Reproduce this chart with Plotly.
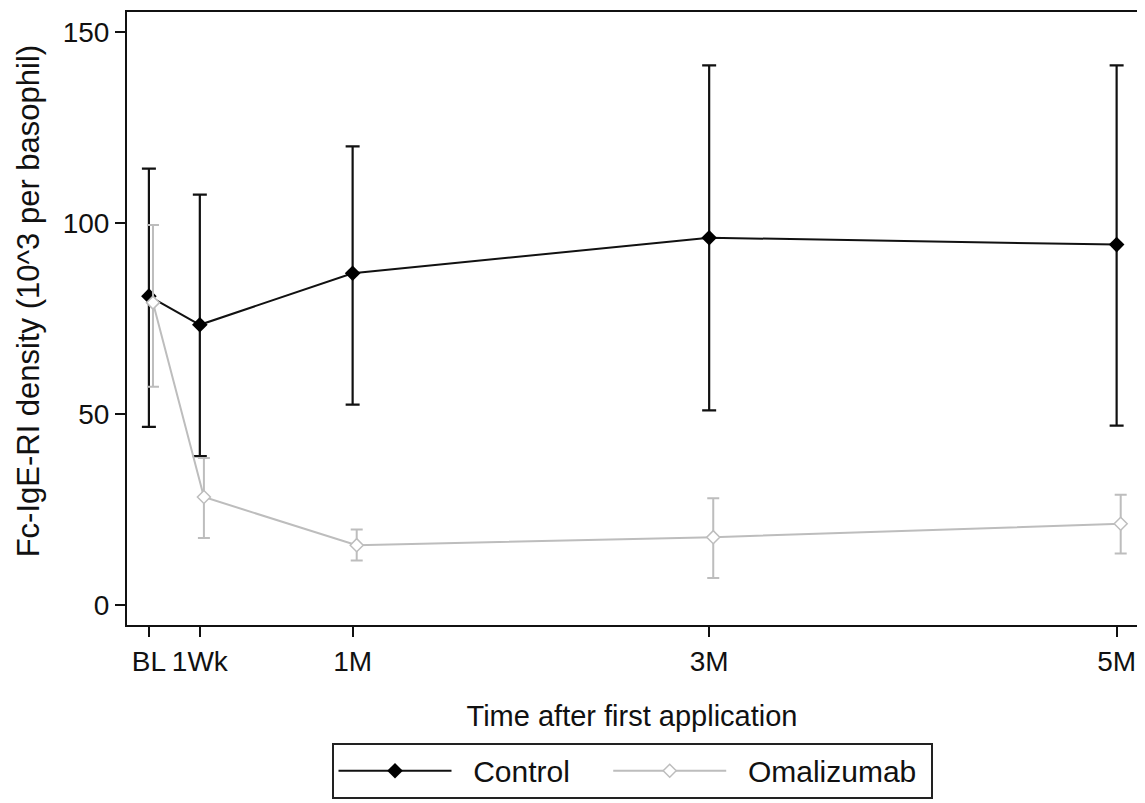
import plotly.graph_objects as go

# time in weeks after first application
time_weeks = [0, 1, 4, 11, 19]
tick_labels = ["BL", "1Wk", "1M", "3M", "5M"]

control_mean = [80.9, 73.4, 86.9, 96.2, 94.4]
control_upper = [114.3, 107.5, 120.1, 141.3, 141.3]
control_lower = [46.7, 39.0, 52.5, 51.0, 47.0]

omal_mean = [79.2, 28.3, 15.7, 17.8, 21.3]
omal_upper = [99.5, 38.5, 19.8, 28.0, 28.9]
omal_lower = [57.2, 17.6, 11.7, 7.1, 13.5]

omal_offset = 0.08  # small horizontal dodge
omal_x = [t + omal_offset for t in time_weeks]

NB = "\u00a0"
fig = go.Figure()
fig.add_trace(go.Scatter(
    x=time_weeks, y=control_mean, name=NB * 2 + "Control" + NB * 4, mode="lines+markers",
    line=dict(color="#111111", width=2),
    marker=dict(symbol="diamond", size=12, color="#000000"),
    error_y=dict(type="data", symmetric=False,
                 array=[u - m for u, m in zip(control_upper, control_mean)],
                 arrayminus=[m - l for m, l in zip(control_mean, control_lower)],
                 color="#111111", thickness=2.2, width=7),
))
fig.add_trace(go.Scatter(
    x=omal_x, y=omal_mean, name=NB * 2 + "Omalizumab" + NB, mode="lines+markers",
    line=dict(color="#bdbdbd", width=2),
    marker=dict(symbol="diamond", size=10, color="white",
                line=dict(color="#bdbdbd", width=1.5)),
    error_y=dict(type="data", symmetric=False,
                 array=[u - m for u, m in zip(omal_upper, omal_mean)],
                 arrayminus=[m - l for m, l in zip(omal_mean, omal_lower)],
                 color="#bdbdbd", thickness=2, width=6),
))

font_family = "Liberation Sans, Arial, sans-serif"
fig.update_layout(
    width=1137, height=795,
    margin=dict(l=119, r=8, t=2, b=178),
    paper_bgcolor="white", plot_bgcolor="white",
    font=dict(family=font_family, size=28, color="#111111"),
    showlegend=True,
    legend=dict(orientation="h", x=0.5, xanchor="center", y=-0.192, yanchor="top",
                bordercolor="#222222", borderwidth=2,
                font=dict(size=30), itemwidth=113),
    xaxis=dict(
        range=[-0.43, 19.4], tickmode="array", tickvals=time_weeks, ticktext=tick_labels,
        showline=True, linecolor="#111111", linewidth=2, mirror=True,
        ticks="outside", ticklen=10, tickwidth=2, tickcolor="#111111",
        showgrid=False, zeroline=False,
        tickfont=dict(size=28),
        title=dict(text="Time after first application", font=dict(size=29), standoff=30),
    ),
    yaxis=dict(
        range=[-5.2, 155.3], tickvals=[0, 50, 100, 150],
        showline=True, linecolor="#111111", linewidth=2, mirror=True,
        ticks="outside", ticklen=10, tickwidth=2, tickcolor="#111111",
        showgrid=False, zeroline=False,
        tickfont=dict(size=28),
    ),
    annotations=[dict(
        text="Fc-IgE-RI density (10^3 per basophil)", textangle=-90,
        xref="paper", yref="paper", x=-0.098, y=0.528,
        xanchor="center", yanchor="middle", showarrow=False,
        font=dict(size=31, family=font_family, color="#111111"),
    )],
)

fig.write_html("out.html")
